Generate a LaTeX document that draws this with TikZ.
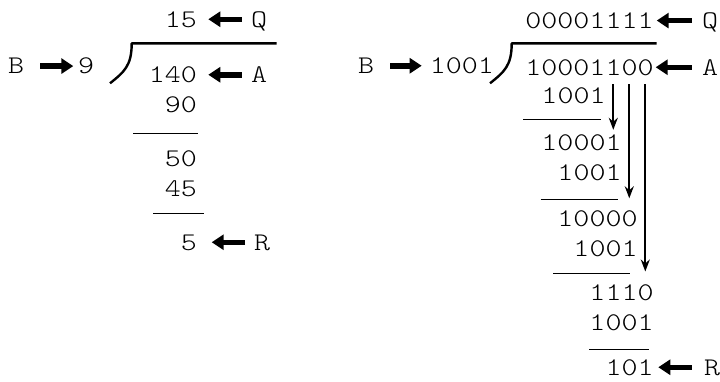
\documentclass[tikz,border=0pt]{standalone}
\usepackage{fontspec}
\newfontfamily\typewr[FakeStretch=1.2]{Latin Modern Mono Light}
\usetikzlibrary{arrows.meta,calc}
\begin{document}
\begin{tikzpicture}[x=1pt,y=-1pt,
  num/.style={inner sep=0pt, text height=15.5pt, text depth=0pt, anchor=base east,
              font=\typewr\fontsize{25.4}{30}\selectfont},
  lab/.style={num, anchor=base west},
  fat/.style={line width=5.5pt, -{Triangle[length=12pt,width=15pt]}},
  rulebar/.style={line width=0.9pt},
  divbar/.style={line width=2.4pt, line join=round},
  bring/.style={line width=1.8pt, -{Stealth[length=12pt,width=9pt]}}]
\useasboundingbox (0,0) rectangle (720,381);

% ---- decimal division: 140 / 9 ----
\node[num] (q1) at (197,27) {15};
\node[lab] (Q1) at (251,27) {Q};
\node[num] (a1) at (197,82.5) {140};
\node[lab] (A1) at (251,82.5) {A};
\node[num] (s1) at (197,112.7) {90};
\node[num] (d1) at (197,166) {50};
\node[num] (s2) at (197,196) {45};
\node[num] (r1) at (197,250) {5};
\node[lab] (R1) at (254,250) {R};
\node[lab] (B1) at (8,73.8) {B};
\node[lab] (b1) at (78,73.8) {9};

\draw[fat, shorten <=9.3pt, shorten >=11.3pt] (Q1.west) -- (q1.east);
\draw[fat, shorten <=9.3pt, shorten >=11.3pt] (A1.west) -- (a1.east);
\draw[fat, shorten <=9pt, shorten >=14.7pt] (R1.west) -- (r1.east);
\draw[fat, shorten <=16pt, shorten >=4.7pt] (B1.east) -- (b1.west);

\draw[divbar] (276.7,43.3) -- (131.7,43.3) .. controls (131.7,66) and (124,72) .. (110,83.3);
\draw[rulebar] (133.3,133.3) -- (198.3,133.3);
\draw[rulebar] (153.3,213.3) -- (204,213.3);

% ---- binary division: 10001100 / 1001 ----
\node[num] (q2) at (653.7,28.3) {00001111};
\node[lab] (Q2) at (702,28.3) {Q};
\node[num] (dvd) at (653.7,75) {10001100};
\node[lab] (A2) at (702,75) {A};
\node[lab] (B2) at (358,73.5) {B};
\node[lab] (dvs) at (429.7,73.5) {1001};
\node[num] (t1) at (605.7,103) {1001};
\node[num] (p1) at (621.7,150) {10001};
\node[num] (t2) at (621.7,180.5) {1001};
\node[num] (p2) at (637.7,226.5) {10000};
\node[num] (t3) at (637.7,256.5) {1001};
\node[num] (p3) at (653.7,300.5) {1110};
\node[num] (t4) at (653.7,330.5) {1001};
\node[num] (rem) at (653.7,375) {101};
\node[lab] (R2) at (704,375) {R};

\draw[fat, shorten <=10.3pt, shorten >=3pt] (Q2.west) -- (q2.east);
\draw[fat, shorten <=10.3pt, shorten >=2pt] (A2.west) -- (dvd.east);
\draw[fat, shorten <=12.3pt, shorten >=4.6pt] (R2.west) -- (rem.east);
\draw[fat, shorten <=16pt, shorten >=8pt] (B2.east) -- (dvs.west);

\draw[divbar] (656.7,43.3) -- (511.7,43.3) .. controls (511.7,66) and (504,72) .. (490,83.3);
\draw[rulebar] (523.3,119.5) -- (601,119.5);
\draw[rulebar] (540.7,199.3) -- (617.7,199.3);
\draw[rulebar] (553.3,273) -- (630,273);
\draw[rulebar] (589.3,349.3) -- (648.7,349.3);

% bring-down arrows from the dividend digits
\coordinate (k5) at ($(dvd.south west)+(88,9)$);
\coordinate (k6) at ($(dvd.south west)+(104,9)$);
\coordinate (k7) at ($(dvd.south west)+(120,9)$);
\draw[bring, shorten >=4.5pt] (k5) -- (k5 |- p1.north);
\draw[bring, shorten >=12.5pt] (k6) -- (k6 |- p2.north);
\draw[bring, shorten >=13.3pt] (k7) -- (k7 |- p3.north);
\end{tikzpicture}
\end{document}
